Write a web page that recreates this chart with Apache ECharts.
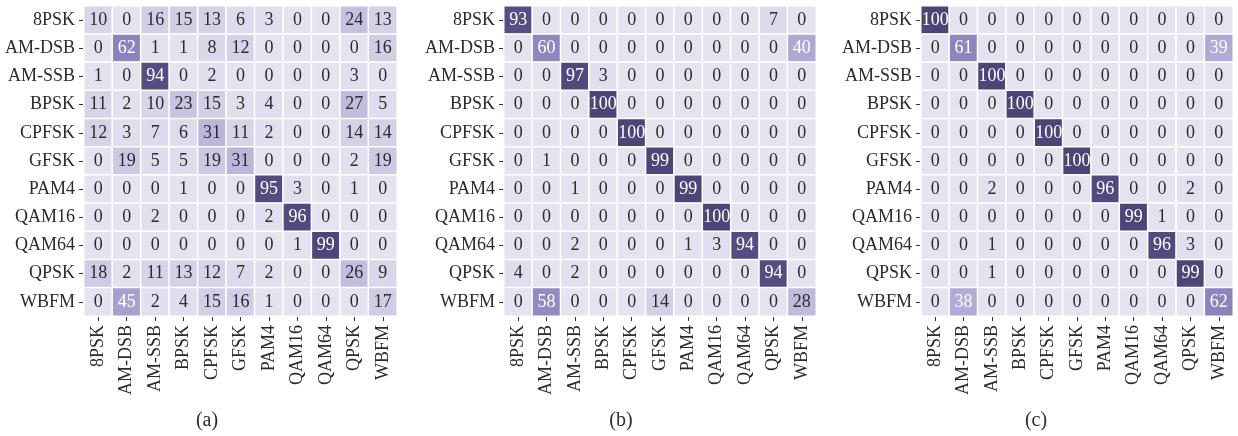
<!DOCTYPE html>
<html>
<head>
<meta charset="utf-8">
<script src="https://cdn.jsdelivr.net/npm/echarts@6/dist/echarts.min.js"></script>
<style>
  html, body { margin: 0; padding: 0; background: #ffffff; }
  #chart { width: 1238px; height: 436px; }
</style>
</head>
<body>
<div id="chart"></div>
<script>
// Modulation classes (rows = true label, columns = predicted label)
const classes = ['8PSK', 'AM-DSB', 'AM-SSB', 'BPSK', 'CPFSK', 'GFSK', 'PAM4', 'QAM16', 'QAM64', 'QPSK', 'WBFM'];

// Confusion matrix (a), percentages per row
const matrixA = [
  [10, 0, 16, 15, 13, 6, 3, 0, 0, 24, 13],
  [0, 62, 1, 1, 8, 12, 0, 0, 0, 0, 16],
  [1, 0, 94, 0, 2, 0, 0, 0, 0, 3, 0],
  [11, 2, 10, 23, 15, 3, 4, 0, 0, 27, 5],
  [12, 3, 7, 6, 31, 11, 2, 0, 0, 14, 14],
  [0, 19, 5, 5, 19, 31, 0, 0, 0, 2, 19],
  [0, 0, 0, 1, 0, 0, 95, 3, 0, 1, 0],
  [0, 0, 2, 0, 0, 0, 2, 96, 0, 0, 0],
  [0, 0, 0, 0, 0, 0, 0, 1, 99, 0, 0],
  [18, 2, 11, 13, 12, 7, 2, 0, 0, 26, 9],
  [0, 45, 2, 4, 15, 16, 1, 0, 0, 0, 17]
];

// Confusion matrix (b)
const matrixB = [
  [93, 0, 0, 0, 0, 0, 0, 0, 0, 7, 0],
  [0, 60, 0, 0, 0, 0, 0, 0, 0, 0, 40],
  [0, 0, 97, 3, 0, 0, 0, 0, 0, 0, 0],
  [0, 0, 0, 100, 0, 0, 0, 0, 0, 0, 0],
  [0, 0, 0, 0, 100, 0, 0, 0, 0, 0, 0],
  [0, 1, 0, 0, 0, 99, 0, 0, 0, 0, 0],
  [0, 0, 1, 0, 0, 0, 99, 0, 0, 0, 0],
  [0, 0, 0, 0, 0, 0, 0, 100, 0, 0, 0],
  [0, 0, 2, 0, 0, 0, 1, 3, 94, 0, 0],
  [4, 0, 2, 0, 0, 0, 0, 0, 0, 94, 0],
  [0, 58, 0, 0, 0, 14, 0, 0, 0, 0, 28]
];

// Confusion matrix (c)
const matrixC = [
  [100, 0, 0, 0, 0, 0, 0, 0, 0, 0, 0],
  [0, 61, 0, 0, 0, 0, 0, 0, 0, 0, 39],
  [0, 0, 100, 0, 0, 0, 0, 0, 0, 0, 0],
  [0, 0, 0, 100, 0, 0, 0, 0, 0, 0, 0],
  [0, 0, 0, 0, 100, 0, 0, 0, 0, 0, 0],
  [0, 0, 0, 0, 0, 100, 0, 0, 0, 0, 0],
  [0, 0, 2, 0, 0, 0, 96, 0, 0, 2, 0],
  [0, 0, 0, 0, 0, 0, 0, 99, 1, 0, 0],
  [0, 0, 1, 0, 0, 0, 0, 0, 96, 3, 0],
  [0, 0, 1, 0, 0, 0, 0, 0, 0, 99, 0],
  [0, 38, 0, 0, 0, 0, 0, 0, 0, 0, 62]
];

const panelTags = ['(a)', '(b)', '(c)'];

const FONT = '"Liberation Serif", "DejaVu Serif", serif';
const TEXT_DARK = '#2b2b2b';

// grid placement and caption centre for each panel
const panels = [
  { m: matrixA, left: 84, width: 313, tagX: 207 },
  { m: matrixB, left: 504, width: 312, tagX: 621 },
  { m: matrixC, left: 921, width: 312, tagX: 1036 }
];
const TOP = 6, HEIGHT = 310;

function cells(m) {
  const out = [];
  m.forEach((row, r) => {
    row.forEach((v, c) => {
      out.push({
        value: [c, r, v],
        label: { color: v > 35 ? '#ffffff' : TEXT_DARK }
      });
    });
  });
  return out;
}

const grid = [], xAxis = [], yAxis = [], series = [], graphic = [];
panels.forEach((p, i) => {
  grid.push({ left: p.left, top: TOP, width: p.width, height: HEIGHT, containLabel: false });
  xAxis.push({
    type: 'category', gridIndex: i, data: classes, position: 'bottom',
    axisLine: { show: false },
    axisTick: { show: true, length: 5, alignWithLabel: true, lineStyle: { color: '#333', width: 1 } },
    axisLabel: { rotate: 90, margin: 9, interval: 0, fontFamily: FONT, fontSize: 18, color: TEXT_DARK },
    splitLine: { show: false }
  });
  yAxis.push({
    type: 'category', gridIndex: i, data: classes, inverse: true,
    axisLine: { show: false },
    axisTick: { show: true, length: 5, alignWithLabel: true, lineStyle: { color: '#333', width: 1 } },
    axisLabel: { margin: 9, interval: 0, fontFamily: FONT, fontSize: 18, color: TEXT_DARK },
    splitLine: { show: false }
  });
  series.push({
    type: 'heatmap', xAxisIndex: i, yAxisIndex: i,
    data: cells(p.m),
    itemStyle: { borderColor: '#ffffff', borderWidth: 1.5 },
    label: {
      show: true, fontFamily: FONT, fontSize: 18,
      formatter: (d) => String(d.value[2])
    },
    emphasis: { disabled: true }
  });
  graphic.push({
    type: 'text',
    x: p.tagX, y: 421,
    style: { text: panelTags[i], font: '20px ' + FONT, fill: TEXT_DARK, textAlign: 'center', textVerticalAlign: 'middle' }
  });
});

const chart = echarts.init(document.getElementById('chart'), null, { renderer: 'canvas' });
chart.setOption({
  backgroundColor: '#ffffff',
  animation: false,
  grid, xAxis, yAxis, series, graphic,
  visualMap: {
    show: false, type: 'continuous', min: 0, max: 100, dimension: 2,
    seriesIndex: [0, 1, 2],
    inRange: { color: ['#e5e3f0', '#d0cde6', '#b7b3d9', '#9f9bcc', '#807cb6', '#625b97', '#4d4576'] }
  }
});
</script>
</body>
</html>
